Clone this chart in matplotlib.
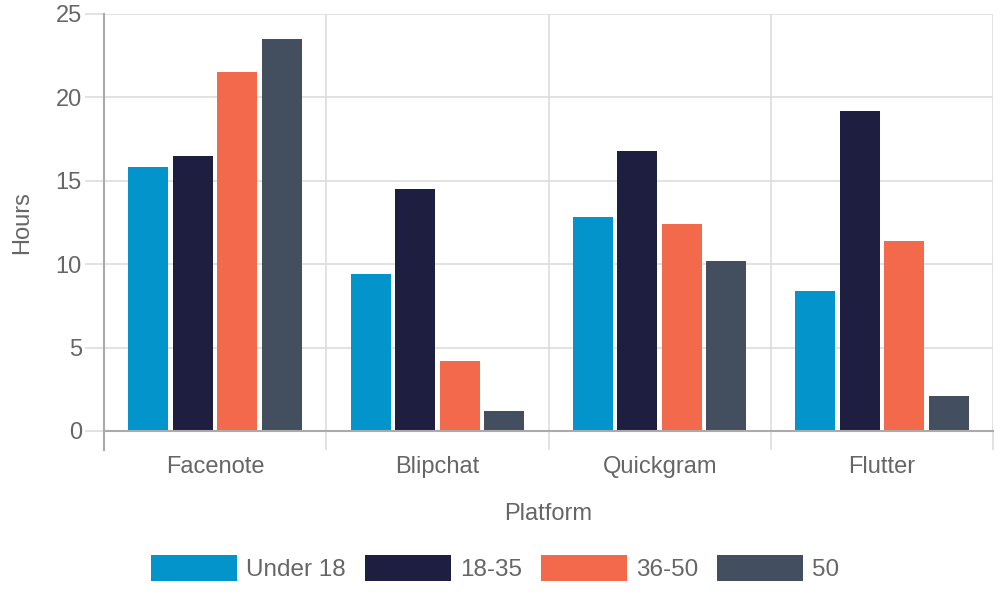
import matplotlib
matplotlib.use("Agg")
import matplotlib.pyplot as plt
import numpy as np

platforms = ["Facenote", "Blipchat", "Quickgram", "Flutter"]
groups = ["Under 18", "18-35", "36-50", "50"]
under_18 = [15.8, 9.4, 12.8, 8.4]
age_18_35 = [16.5, 14.5, 16.8, 19.2]
age_36_50 = [21.5, 4.2, 12.4, 11.4]
age_50 = [23.5, 1.2, 10.2, 2.1]
colors = ["#0494CC", "#1E1E40", "#F26A4B", "#434F5E"]

plt.rcParams["font.family"] = ["Liberation Sans", "DejaVu Sans"]
TEXT = "#666666"

fig = plt.figure(figsize=(10, 6), dpi=100)
ax = fig.add_axes([0.104, 0.2817, 0.889, 0.695])

x = np.arange(len(platforms))
slot = 0.2
for i, (vals, name) in enumerate(zip([under_18, age_18_35, age_36_50, age_50], groups)):
    ax.bar(x + (i - 1.5) * slot, vals, width=slot * 0.9, color=colors[i],
           label=name, zorder=3)

ax.set_xlim(-0.5, len(platforms) - 0.5)
ax.set_ylim(0, 25)
ax.set_yticks(np.arange(0, 26, 5))
ax.set_xticks(x)
ax.set_xticklabels(platforms)
ax.set_xticks(np.arange(-0.5, len(platforms), 1), minor=True)

ax.grid(True, axis="y", color="#dddddd", linewidth=1.2, zorder=0)
ax.grid(True, axis="x", which="minor", color="#dddddd", linewidth=1.2, zorder=0)
ax.grid(False, axis="x", which="major")

for s in ["top", "right"]:
    ax.spines[s].set_visible(False)
ax.spines["left"].set_color("#aaaaaa")
ax.spines["left"].set_linewidth(1.5)
ax.spines["left"].set_bounds(-1.14, 25)
ax.spines["bottom"].set_color("#aaaaaa")
ax.spines["bottom"].set_linewidth(1.5)
ax.spines["bottom"].set_zorder(4)

ax.tick_params(axis="x", which="major", length=0, pad=18, labelsize=17, labelcolor=TEXT)
ax.tick_params(axis="x", which="minor", length=14, width=1.2, color="#dddddd")
ax.tick_params(axis="y", length=14, width=1.2, color="#dddddd", pad=2,
               labelsize=17, labelcolor=TEXT)

ax.set_xlabel("Platform", fontsize=17, color=TEXT, labelpad=18)
ax.set_ylabel("Hours", fontsize=17, color=TEXT, labelpad=16)

fig.legend(loc="center", bbox_to_anchor=(0.495, 0.053), ncol=4, frameon=False,
           fontsize=17.5, labelcolor=TEXT, handlelength=3.54, handleheight=1.23,
           handletextpad=0.37, columnspacing=0.78)

fig.savefig("out.png", dpi=100)
